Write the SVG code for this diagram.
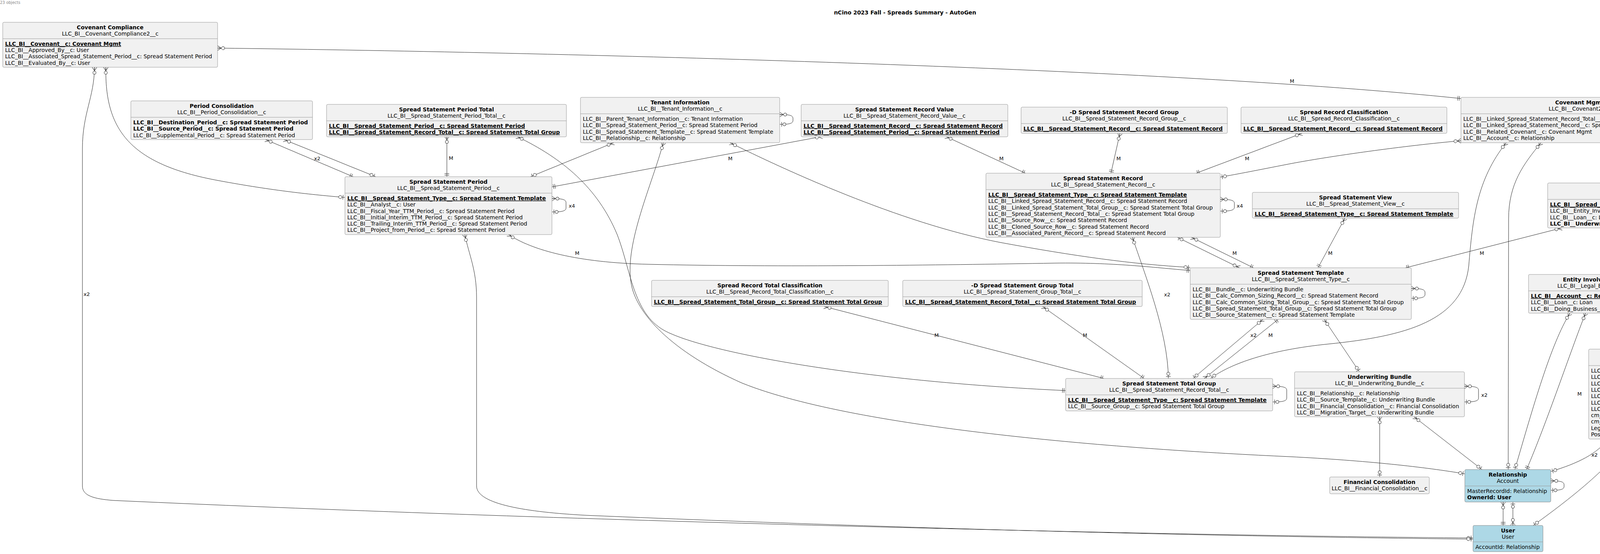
<svg xmlns="http://www.w3.org/2000/svg" width="4647" height="1417" viewBox="0 0 4647 1417">
<style>
text{font-family:"DejaVu Sans",sans-serif;font-size:14px;fill:#000}
.t{font-weight:bold;text-anchor:middle}
.s{text-anchor:middle}
.b{font-weight:bold}
.u{font-weight:bold;text-decoration:underline}
.l{font-size:13px}
.hd{font-size:10px;fill:#888}
rect.n{fill:#F1F1F1;stroke:#999;stroke-width:1}
rect.k{fill:#ADD8E6;stroke:#888;stroke-width:1}
line.sp{stroke:#999;stroke-width:1}
path.c{fill:none;stroke:#222;stroke-width:1}
.c1{marker-start:url(#cf);marker-end:url(#zo)}
.c2{marker-start:url(#cf);marker-end:url(#oo)}
</style>
<defs>
<marker id="cf" viewBox="-20 -8 22 16" refX="0" refY="0" markerWidth="22" markerHeight="16" markerUnits="userSpaceOnUse" orient="auto-start-reverse" overflow="visible">
<path d="M-9,0 L0,-6 M-9,0 L0,6 M-9,0 L0,0" fill="none" stroke="#222" stroke-width="1"/>
<circle cx="-14" cy="0" r="4" fill="#fff" stroke="#222" stroke-width="1"/>
</marker>
<marker id="zo" viewBox="-20 -8 22 16" refX="0" refY="0" markerWidth="22" markerHeight="16" markerUnits="userSpaceOnUse" orient="auto-start-reverse" overflow="visible">
<path d="M-5,-6 L-5,6" fill="none" stroke="#222" stroke-width="1"/>
<circle cx="-12" cy="0" r="4" fill="#fff" stroke="#222" stroke-width="1"/>
</marker>
<marker id="oo" viewBox="-20 -8 22 16" refX="0" refY="0" markerWidth="22" markerHeight="16" markerUnits="userSpaceOnUse" orient="auto-start-reverse" overflow="visible">
<path d="M-4,-6 L-4,6 M-8,-6 L-8,6" fill="none" stroke="#222" stroke-width="1"/>
</marker>
</defs>
<rect x="0" y="0" width="4647" height="1417" fill="#fff"/>
<text class="hd" x="0" y="10">23 objects</text>
<text class="t" x="2317" y="37">nCino 2023 Fall - Spreads Summary - AutoGen</text>

<g id="connectors">
<path class="c c2" d="M557,123 C1500,135 3000,175 3740,252"/>
<path class="c c1" d="M242,172 C241,250 211,290 211,380 L211,1243 C211,1268 240,1276 290,1280 C1500,1335 3000,1370 3771,1376"/>
<path class="c c1" d="M271,172 C268,330 330,420 560,462 C700,488 800,498 883,505"/>
<path class="c c2" d="M680,357 L904,452"/>
<path class="c c1" d="M727,357 L962,452"/>
<path class="c c2" d="M1144,349 L1144,452"/>
<path class="c c2" d="M1323,349 C1440,405 1530,480 1580,600 C1615,690 1620,800 1700,845 C1800,900 2200,975 2728,999"/>
<path class="c c1" d="M1571,365 L1358,452"/>
<path class="c c1" d="M1869,365 C2000,430 2300,570 2560,620 C2750,655 2900,676 3047,684"/>
<path class="c c2" d="M1301,599 C1360,640 1480,672 1660,676 C2000,684 2400,678 2700,673 C2850,671 2950,684 3047,692"/>
<path class="c c2" d="M2105,349 L1413,478"/>
<path class="c c2" d="M2421,349 L2625,443"/>
<path class="c c2" d="M2867,341 L2844,443"/>
<path class="c c2" d="M3333,341 L3062,443"/>
<path class="c c1" d="M3740,360 C3600,372 3400,400 3297,420 C3220,435 3170,445 3124,453"/>
<path class="c c2" d="M3050,607 L3209,685"/>
<path class="c c1" d="M3173,685 L3014,607"/>
<path class="c c1" d="M2899,607 C2930,700 2990,850 2991,968"/>
<path class="c c2" d="M3443,558 L3374,685"/>
<path class="c c2" d="M3998,583 L3598,685"/>
<path class="c c1" d="M3390,817 L3480,951"/>
<path class="c c1" d="M3233,817 L3054,968"/>
<path class="c c2" d="M3083,968 L3272,817"/>
<path class="c c1" d="M3856,365 C3780,460 3770,560 3760,680 C3745,820 3600,860 3400,880 C3250,895 3150,930 3099,968"/>
<path class="c c1" d="M3945,365 C3900,420 3862,470 3862,560 L3861,1201"/>
<path class="c c1" d="M4193,583 L4118,702"/>
<path class="c c1" d="M4250,583 L4275,893"/>
<path class="c c2" d="M4329,583 C4400,680 4580,900 4570,1080 C4566,1150 4540,1190 4527,1220"/>
<path class="c c1" d="M4019,801 C3970,880 3925,1040 3878,1201"/>
<path class="c c2" d="M4059,801 C4020,900 3960,1080 3908,1201"/>
<path class="c c1" d="M4125,801 L4187,893"/>
<path class="c c1" d="M3532,1066 L3532,1220"/>
<path class="c c1" d="M3620,1066 L3794,1201"/>
<path class="c c1" d="M4116,1123 C4090,1160 4040,1185 3970,1206"/>
<path class="c c1" d="M4169,1123 C4120,1200 4000,1290 3925,1344"/>
<path class="c c1" d="M4407,1123 L4486,1220"/>
<path class="c c2" d="M3848,1284 L3848,1344"/>
<path class="c c1" d="M3873,1344 L3873,1284"/>
<path class="c c1" d="M1190,600 C1200,650 1220,690 1220,760 L1220,1243 C1220,1290 1350,1310 1500,1318 C2500,1360 3300,1374 3771,1379"/>
<path class="c c1" d="M1698,365 C1670,470 1600,620 1615,720 C1625,800 1720,900 1900,980 C2200,1100 2900,1150 3300,1168 C3500,1178 3650,1195 3750,1212"/>
<path class="c c2" d="M2110,784 L2826,968"/>
<path class="c c2" d="M2669,784 L2929,968"/>
<path class="c c1" d="M1996,293 C2018,293 2030,294 2030,303 L2030,308 C2030,317 2018,318 1996,318"/>
<path class="c c1" d="M1413,508 C1435,508 1449,509 1449,518 L1449,532 C1449,541 1435,542 1413,542"/>
<path class="c c1" d="M3124,510 C3146,510 3160,511 3160,520 L3160,530 C3160,539 3146,540 3124,540"/>
<path class="c c1" d="M4347,295 C4369,295 4382,296 4382,305 L4382,309 C4382,318 4369,319 4347,319"/>
<path class="c c1" d="M3613,738 C3635,738 3648,739 3648,748 L3648,753 C3648,762 3635,763 3613,763"/>
<path class="c c1" d="M3749,988 C3771,988 3785,989 3785,998 L3785,1018 C3785,1027 3771,1028 3749,1028"/>
<path class="c c1" d="M4501,987 C4523,987 4537,988 4537,997 L4537,1018 C4537,1027 4523,1028 4501,1028"/>
<path class="c c1" d="M3258,988 C3280,988 3294,989 3294,998 L3294,1018 C3294,1027 3280,1028 3258,1028"/>
<path class="c c1" d="M3970,1230 C3992,1230 4004,1231 4004,1240 L4004,1244 C4004,1253 3992,1254 3970,1254"/>
<text class="l" x="3302" y="212">M</text>
<text class="l" x="214" y="757">x2</text>
<text class="l" x="804" y="410">x2</text>
<text class="l" x="1149" y="409">M</text>
<text class="l" x="1472" y="652">M</text>
<text class="l" x="1864" y="410">M</text>
<text class="l" x="2558" y="410">M</text>
<text class="l" x="2858" y="410">M</text>
<text class="l" x="3187" y="410">M</text>
<text class="l" x="3155" y="652">M</text>
<text class="l" x="2980" y="758">x2</text>
<text class="l" x="3400" y="652">M</text>
<text class="l" x="3788" y="652">M</text>
<text class="l" x="3201" y="862">x2</text>
<text class="l" x="3247" y="862">M</text>
<text class="l" x="4038" y="1012">M</text>
<text class="l" x="4074" y="1168">x2</text>
<text class="l" x="4102" y="1248">x5</text>
<text class="l" x="2392" y="862">M</text>
<text class="l" x="2772" y="862">M</text>
<text class="l" x="1456" y="531">x4</text>
<text class="l" x="3166" y="531">x4</text>
<text class="l" x="3792" y="1015">x2</text>
<text class="l" x="4546" y="1015">x3</text>
</g>

<g id="covenant-compliance">
<rect class="n" x="7" y="57" width="550" height="115" rx="3"/>
<text class="t" x="282" y="75">Covenant Compliance</text>
<text class="s" x="282" y="91">LLC_BI__Covenant_Compliance2__c</text>
<line class="sp" x1="7" y1="99" x2="557" y2="99"/>
<text class="u" x="13" y="117">LLC_BI__Covenant__c: Covenant Mgmt</text>
<text x="13" y="133">LLC_BI__Approved_By__c: User</text>
<text x="13" y="149">LLC_BI__Associated_Spread_Statement_Period__c: Spread Statement Period</text>
<text x="13" y="166">LLC_BI__Evaluated_By__c: User</text>
</g>

<g id="period-consolidation">
<rect class="n" x="335" y="258" width="465" height="99" rx="3"/>
<text class="t" x="567.5" y="276">Period Consolidation</text>
<text class="s" x="567.5" y="292">LLC_BI__Period_Consolidation__c</text>
<line class="sp" x1="335" y1="300" x2="800" y2="300"/>
<text class="b" x="341" y="318">LLC_BI__Destination_Period__c: Spread Statement Period</text>
<text class="b" x="341" y="334">LLC_BI__Source_Period__c: Spread Statement Period</text>
<text x="341" y="351">LLC_BI__Supplemental_Period__c: Spread Statement Period</text>
</g>

<g id="spread-statement-period-total">
<rect class="n" x="836" y="267" width="614" height="83" rx="3"/>
<text class="t" x="1143" y="285">Spread Statement Period Total</text>
<text class="s" x="1143" y="301">LLC_BI__Spread_Statement_Period_Total__c</text>
<line class="sp" x1="836" y1="309" x2="1450" y2="309"/>
<text class="u" x="842" y="327">LLC_BI__Spread_Statement_Period__c: Spread Statement Period</text>
<text class="u" x="842" y="343">LLC_BI__Spread_Statement_Record_Total__c: Spread Statement Total Group</text>
</g>

<g id="tenant-information">
<rect class="n" x="1486" y="249" width="510" height="116" rx="3"/>
<text class="t" x="1741" y="267">Tenant Information</text>
<text class="s" x="1741" y="283">LLC_BI__Tenant_Information__c</text>
<line class="sp" x1="1486" y1="291" x2="1996" y2="291"/>
<text x="1492" y="309">LLC_BI__Parent_Tenant_Information__c: Tenant Information</text>
<text x="1492" y="325">LLC_BI__Spread_Statement_Period__c: Spread Statement Period</text>
<text x="1492" y="342">LLC_BI__Spread_Statement_Template__c: Spread Statement Template</text>
<text x="1492" y="358">LLC_BI__Relationship__c: Relationship</text>
</g>

<g id="spread-statement-record-value">
<rect class="n" x="2051" y="267" width="529" height="83" rx="3"/>
<text class="t" x="2315.5" y="285">Spread Statement Record Value</text>
<text class="s" x="2315.5" y="301">LLC_BI__Spread_Statement_Record_Value__c</text>
<line class="sp" x1="2051" y1="309" x2="2580" y2="309"/>
<text class="u" x="2057" y="327">LLC_BI__Spread_Statement_Record__c: Spread Statement Record</text>
<text class="u" x="2057" y="343">LLC_BI__Spread_Statement_Period__c: Spread Statement Period</text>
</g>

<g id="d-spread-statement-record-group">
<rect class="n" x="2614" y="274" width="528" height="67" rx="3"/>
<text class="t" x="2878" y="292">-D Spread Statement Record Group</text>
<text class="s" x="2878" y="308">LLC_BI__Spread_Statement_Record_Group__c</text>
<line class="sp" x1="2614" y1="316" x2="3142" y2="316"/>
<text class="u" x="2620" y="334">LLC_BI__Spread_Statement_Record__c: Spread Statement Record</text>
</g>

<g id="spread-record-classification">
<rect class="n" x="3177" y="274" width="527" height="67" rx="3"/>
<text class="t" x="3440.5" y="292">Spread Record Classification</text>
<text class="s" x="3440.5" y="308">LLC_BI__Spread_Record_Classification__c</text>
<line class="sp" x1="3177" y1="316" x2="3704" y2="316"/>
<text class="u" x="3183" y="334">LLC_BI__Spread_Statement_Record__c: Spread Statement Record</text>
</g>

<g id="covenant-mgmt">
<rect class="n" x="3740" y="249" width="607" height="116" rx="3"/>
<text class="t" x="4043.5" y="267">Covenant Mgmt</text>
<text class="s" x="4043.5" y="283">LLC_BI__Covenant2__c</text>
<line class="sp" x1="3740" y1="291" x2="4347" y2="291"/>
<text x="3746" y="309">LLC_BI__Linked_Spread_Statement_Record_Total__c: Spread Statement Total Group</text>
<text x="3746" y="325">LLC_BI__Linked_Spread_Statement_Record__c: Spread Statement Record</text>
<text x="3746" y="342">LLC_BI__Related_Covenant__c: Covenant Mgmt</text>
<text x="3746" y="358">LLC_BI__Account__c: Relationship</text>
</g>

<g id="spread-statement-period">
<rect class="n" x="883" y="452" width="530" height="148" rx="3"/>
<text class="t" x="1148" y="470">Spread Statement Period</text>
<text class="s" x="1148" y="486">LLC_BI__Spread_Statement_Period__c</text>
<line class="sp" x1="883" y1="494" x2="1413" y2="494"/>
<text class="u" x="889" y="512">LLC_BI__Spread_Statement_Type__c: Spread Statement Template</text>
<text x="889" y="528">LLC_BI__Analyst__c: User</text>
<text x="889" y="545">LLC_BI__Fiscal_Year_TTM_Period__c: Spread Statement Period</text>
<text x="889" y="561">LLC_BI__Initial_Interim_TTM_Period__c: Spread Statement Period</text>
<text x="889" y="577">LLC_BI__Trailing_Interim_TTM_Period__c: Spread Statement Period</text>
<text x="889" y="593">LLC_BI__Project_from_Period__c: Spread Statement Period</text>
</g>

<g id="spread-statement-record">
<rect class="n" x="2524" y="443" width="600" height="164" rx="3"/>
<text class="t" x="2824" y="461">Spread Statement Record</text>
<text class="s" x="2824" y="477">LLC_BI__Spread_Statement_Record__c</text>
<line class="sp" x1="2524" y1="485" x2="3124" y2="485"/>
<text class="u" x="2530" y="503">LLC_BI__Spread_Statement_Type__c: Spread Statement Template</text>
<text x="2530" y="519">LLC_BI__Linked_Spread_Statement_Record__c: Spread Statement Record</text>
<text x="2530" y="536">LLC_BI__Linked_Spread_Statement_Total_Group__c: Spread Statement Total Group</text>
<text x="2530" y="552">LLC_BI__Spread_Statement_Record_Total__c: Spread Statement Total Group</text>
<text x="2530" y="568">LLC_BI__Source_Row__c: Spread Statement Record</text>
<text x="2530" y="585">LLC_BI__Cloned_Source_Row__c: Spread Statement Record</text>
<text x="2530" y="601">LLC_BI__Associated_Parent_Record__c: Spread Statement Record</text>
</g>

<g id="spread-statement-view">
<rect class="n" x="3206" y="492" width="528" height="66" rx="3"/>
<text class="t" x="3470" y="510">Spread Statement View</text>
<text class="s" x="3470" y="526">LLC_BI__Spread_Statement_View__c</text>
<line class="sp" x1="3206" y1="534" x2="3734" y2="534"/>
<text class="u" x="3212" y="552">LLC_BI__Spread_Statement_Type__c: Spread Statement Template</text>
</g>

<g id="spread">
<rect class="n" x="3962" y="468" width="567" height="115" rx="3"/>
<text class="t" x="4245.5" y="486">Spread</text>
<text class="s" x="4245.5" y="502">LLC_BI__Spread__c</text>
<line class="sp" x1="3962" y1="510" x2="4529" y2="510"/>
<text class="u" x="3968" y="528">LLC_BI__Spread_Statement_Template__c: Spread Statement Template</text>
<text x="3968" y="544">LLC_BI__Entity_Involvement__c: Entity Involvement</text>
<text x="3968" y="561">LLC_BI__Loan__c: Loan</text>
<text class="b" x="3968" y="577">LLC_BI__Underwriting_Summary__c: Underwriting Summary</text>
</g>

<g id="spread-statement-template">
<rect class="n" x="3047" y="685" width="566" height="132" rx="3"/>
<text class="t" x="3330" y="703">Spread Statement Template</text>
<text class="s" x="3330" y="719">LLC_BI__Spread_Statement_Type__c</text>
<line class="sp" x1="3047" y1="727" x2="3613" y2="727"/>
<text x="3053" y="745">LLC_BI__Bundle__c: Underwriting Bundle</text>
<text x="3053" y="761">LLC_BI__Calc_Common_Sizing_Record__c: Spread Statement Record</text>
<text x="3053" y="778">LLC_BI__Calc_Common_Sizing_Total_Group__c: Spread Statement Total Group</text>
<text x="3053" y="794">LLC_BI__Spread_Statement_Total_Group__c: Spread Statement Total Group</text>
<text x="3053" y="810">LLC_BI__Source_Statement__c: Spread Statement Template</text>
</g>

<g id="entity-involvement">
<rect class="n" x="3913" y="702" width="326" height="99" rx="3"/>
<text class="t" x="4076" y="720">Entity Involvement</text>
<text class="s" x="4076" y="736">LLC_BI__Legal_Entities__c</text>
<line class="sp" x1="3913" y1="744" x2="4239" y2="744"/>
<text class="u" x="3919" y="762">LLC_BI__Account__c: Relationship</text>
<text x="3919" y="778">LLC_BI__Loan__c: Loan</text>
<text x="3919" y="795">LLC_BI__Doing_Business_As__c: Relationship</text>
</g>

<g id="spread-record-total-classification">
<rect class="n" x="1668" y="717" width="606" height="67" rx="3"/>
<text class="t" x="1971" y="735">Spread Record Total Classification</text>
<text class="s" x="1971" y="751">LLC_BI__Spread_Record_Total_Classification__c</text>
<line class="sp" x1="1668" y1="759" x2="2274" y2="759"/>
<text class="u" x="1674" y="777">LLC_BI__Spread_Statement_Total_Group__c: Spread Statement Total Group</text>
</g>

<g id="d-spread-statement-group-total">
<rect class="n" x="2311" y="717" width="613" height="67" rx="3"/>
<text class="t" x="2617.5" y="735">-D Spread Statement Group Total</text>
<text class="s" x="2617.5" y="751">LLC_BI__Spread_Statement_Group_Total__c</text>
<line class="sp" x1="2311" y1="759" x2="2924" y2="759"/>
<text class="u" x="2317" y="777">LLC_BI__Spread_Statement_Record_Total__c: Spread Statement Total Group</text>
</g>

<g id="underwriting-bundle">
<rect class="n" x="3314" y="951" width="435" height="115" rx="3"/>
<text class="t" x="3531.5" y="969">Underwriting Bundle</text>
<text class="s" x="3531.5" y="985">LLC_BI__Underwriting_Bundle__c</text>
<line class="sp" x1="3314" y1="993" x2="3749" y2="993"/>
<text x="3320" y="1011">LLC_BI__Relationship__c: Relationship</text>
<text x="3320" y="1027">LLC_BI__Source_Template__c: Underwriting Bundle</text>
<text x="3320" y="1044">LLC_BI__Financial_Consolidation__c: Financial Consolidation</text>
<text x="3320" y="1060">LLC_BI__Migration_Target__c: Underwriting Bundle</text>
</g>

<g id="loan">
<rect class="n" x="4067" y="893" width="434" height="230" rx="3"/>
<text class="t" x="4284" y="911">Loan</text>
<text class="s" x="4284" y="927">LLC_BI__Loan__c</text>
<line class="sp" x1="4067" y1="935" x2="4501" y2="935"/>
<text x="4073" y="953">LLC_BI__Account__c: Relationship</text>
<text x="4073" y="969">LLC_BI__Highest__c: Loan</text>
<text x="4073" y="986">LLC_BI__Loan_Officer__c: User</text>
<text x="4073" y="1002">LLC_BI__ParentLoan__c: Loan</text>
<text x="4073" y="1018">LLC_BI__Processor_Name__c: User</text>
<text x="4073" y="1035">LLC_BI__Underwriting_Summary__c: Underwriting Summary</text>
<text x="4073" y="1051">LLC_BI__OriginalParentLoan__c: Loan</text>
<text x="4073" y="1067">cm_Approver_1__c: User</text>
<text x="4073" y="1083">cm_Approver_2__c: User</text>
<text x="4073" y="1100">Legal_Firm_Customer__c: Relationship</text>
<text x="4073" y="1116">Post_Closing_Review_Completed_By__c: User</text>
</g>

<g id="spread-statement-total-group">
<rect class="n" x="2728" y="968" width="530" height="83" rx="3"/>
<text class="t" x="2993" y="986">Spread Statement Total Group</text>
<text class="s" x="2993" y="1002">LLC_BI__Spread_Statement_Record_Total__c</text>
<line class="sp" x1="2728" y1="1010" x2="3258" y2="1010"/>
<text class="u" x="2734" y="1028">LLC_BI__Spread_Statement_Type__c: Spread Statement Template</text>
<text x="2734" y="1044">LLC_BI__Source_Group__c: Spread Statement Total Group</text>
</g>

<g id="financial-consolidation">
<rect class="n" x="3404" y="1220" width="255" height="43" rx="3"/>
<text class="t" x="3531.5" y="1238">Financial Consolidation</text>
<text class="s" x="3531.5" y="1254">LLC_BI__Financial_Consolidation__c</text>
</g>

<g id="relationship">
<rect class="k" x="3750" y="1201" width="220" height="83" rx="3"/>
<text class="t" x="3860" y="1219">Relationship</text>
<text class="s" x="3860" y="1235">Account</text>
<line class="sp" x1="3750" y1="1243" x2="3970" y2="1243"/>
<text x="3756" y="1261">MasterRecordId: Relationship</text>
<text class="b" x="3756" y="1277">OwnerId: User</text>
</g>

<g id="underwriting-summary">
<rect class="n" x="4385" y="1220" width="255" height="43" rx="3"/>
<text class="t" x="4512.5" y="1238">Underwriting Summary</text>
<text class="s" x="4512.5" y="1254">LLC_BI__Underwriting_Summary__c</text>
</g>

<g id="user">
<rect class="k" x="3771" y="1344" width="179" height="67" rx="3"/>
<text class="t" x="3860.5" y="1362">User</text>
<text class="s" x="3860.5" y="1378">User</text>
<line class="sp" x1="3771" y1="1386" x2="3950" y2="1386"/>
<text x="3777" y="1404">AccountId: Relationship</text>
</g>
</svg>
